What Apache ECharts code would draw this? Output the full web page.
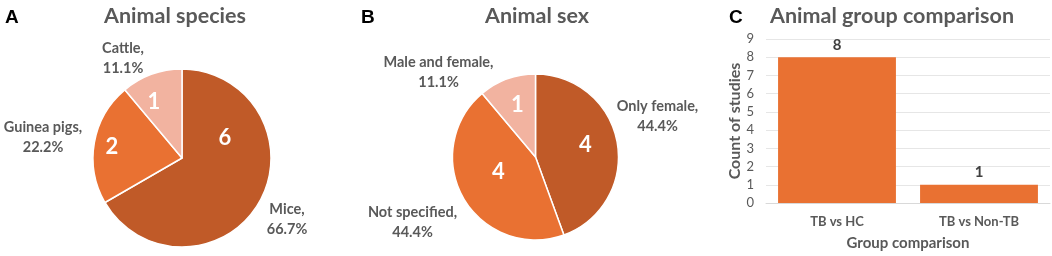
<!DOCTYPE html>
<html>
<head>
<meta charset="utf-8">
<script src="https://cdn.jsdelivr.net/npm/echarts@6/dist/echarts.min.js"></script>
<style>
html,body{margin:0;padding:0;background:#fff;}
#chart{width:1052px;height:256px;}
</style>
</head>
<body>
<div id="chart"></div>
<script>
// ---- data ----
const speciesNames = ['Mice', 'Guinea pigs', 'Cattle'];
const speciesCounts = [6, 2, 1];
const sexNames = ['Only female', 'Not specified', 'Male and female'];
const sexCounts = [4, 4, 1];
const groupCategories = ['TB vs HC', 'TB vs Non-TB'];
const groupCounts = [8, 1];
const yTicks = [0, 1, 2, 3, 4, 5, 6, 7, 8, 9];

const pieColors = ['#C05A28', '#E97132', '#F2B3A0'];
const textGray = '#595959';
const FONT = 'Lato';

// layout (pixels)
const pieA = { c: [182, 158], r: 89 };
const pieB = { c: [535.5, 157], r: 83 };
// label offsets relative to pie centre
const inA = [[43, -20], [-70, -11], [-28, -56]];
const outA = [[105, 61], [-139, -21], [-59, -100]];
const inB = [[50, -12], [-37, 15], [-18, -52]];
const outB = [[122, -41], [-123, 65], [-97, -85]];

function toItems(names, vals) {
  return names.map((n, i) => ({ name: n, value: vals[i], itemStyle: { color: pieColors[i] } }));
}
function layoutFn(pie, offs) {
  return function (p) {
    const o = offs[p.dataIndex];
    return { x: pie.c[0] + o[0], y: pie.c[1] + o[1], align: 'center', verticalAlign: 'middle' };
  };
}
function pieSeries(pie, names, vals, ins, outs) {
  const total = vals.reduce((a, b) => a + b, 0);
  return [
    {
      type: 'pie', center: pie.c, radius: pie.r, startAngle: 90, clockwise: true,
      silent: true, animation: false, avoidLabelOverlap: false,
      itemStyle: { borderColor: '#fff', borderWidth: 1.5 },
      label: { show: true, position: 'inside', formatter: '{c}', color: '#fff',
        fontFamily: FONT, fontWeight: 'bold', fontSize: 22 },
      labelLine: { show: false },
      labelLayout: layoutFn(pie, ins),
      data: toItems(names, vals)
    },
    {
      type: 'pie', center: pie.c, radius: pie.r, startAngle: 90, clockwise: true,
      silent: true, animation: false, avoidLabelOverlap: false,
      itemStyle: { color: 'rgba(0,0,0,0)', borderWidth: 0 },
      label: { show: true, position: 'outside', alignTo: 'none', overflow: 'none', width: 200,
        formatter: p => p.name + ',\n' + (p.value / total * 100).toFixed(1) + '%',
        color: textGray, fontFamily: FONT, fontWeight: 'bold', fontSize: 14.5, lineHeight: 20, align: 'center' },
      labelLine: { show: false },
      labelLayout: layoutFn(pie, outs),
      data: names.map((n, i) => ({ name: n, value: vals[i] }))
    }
  ];
}

const chart = echarts.init(document.getElementById('chart'), null, { renderer: 'canvas' });
const titleStyle = { fontFamily: FONT, fontWeight: 'bold', fontSize: 21.5, color: textGray };
const letterStyle = { fontFamily: 'Liberation Sans', fontWeight: 'bold', fontSize: 19, color: '#000' };

chart.setOption({
  backgroundColor: '#fff',
  animation: false,
  title: [
    { text: 'A', left: 0, top: 3, textStyle: letterStyle },
    { text: 'B', left: 356, top: 3, textStyle: letterStyle },
    { text: 'C', left: 724, top: 3, textStyle: letterStyle },
    { text: 'Animal species', left: 170, top: 0, textAlign: 'center', textStyle: titleStyle },
    { text: 'Animal sex', left: 532, top: 0, textAlign: 'center', textStyle: titleStyle },
    { text: 'Animal group comparison', left: 887, top: 0, textAlign: 'center', textStyle: titleStyle }
  ],
  grid: { left: 766, right: 2, top: 39, bottom: 49, containLabel: false },
  xAxis: {
    type: 'category', data: groupCategories,
    axisLine: { show: true, lineStyle: { color: '#D9D9D9', width: 1 } },
    axisTick: { show: false },
    axisLabel: { color: textGray, fontFamily: FONT, fontWeight: 'bold', fontSize: 13, margin: 12 },
    name: 'Group comparison', nameLocation: 'middle', nameGap: 33,
    nameTextStyle: { color: textGray, fontFamily: FONT, fontWeight: 'bold', fontSize: 15 }
  },
  yAxis: {
    type: 'value', min: yTicks[0], max: yTicks[yTicks.length - 1], interval: 1,
    axisLine: { show: false }, axisTick: { show: false },
    splitLine: { lineStyle: { color: '#E6E6E6', width: 1 } },
    axisLabel: { color: textGray, fontFamily: FONT, fontSize: 13, margin: 12 },
    name: 'Count of studies', nameLocation: 'middle', nameGap: 23, nameRotate: 90,
    nameTextStyle: { color: textGray, fontFamily: FONT, fontWeight: 'bold', fontSize: 16 }
  },
  series: [
    ...pieSeries(pieA, speciesNames, speciesCounts, inA, outA),
    ...pieSeries(pieB, sexNames, sexCounts, inB, outB),
    {
      type: 'bar', data: groupCounts, barWidth: '83%',
      itemStyle: { color: '#E97132' },
      label: { show: true, position: 'top', distance: 5, color: '#404040',
        fontFamily: FONT, fontWeight: 'bold', fontSize: 15 }
    }
  ]
});
</script>
</body>
</html>
